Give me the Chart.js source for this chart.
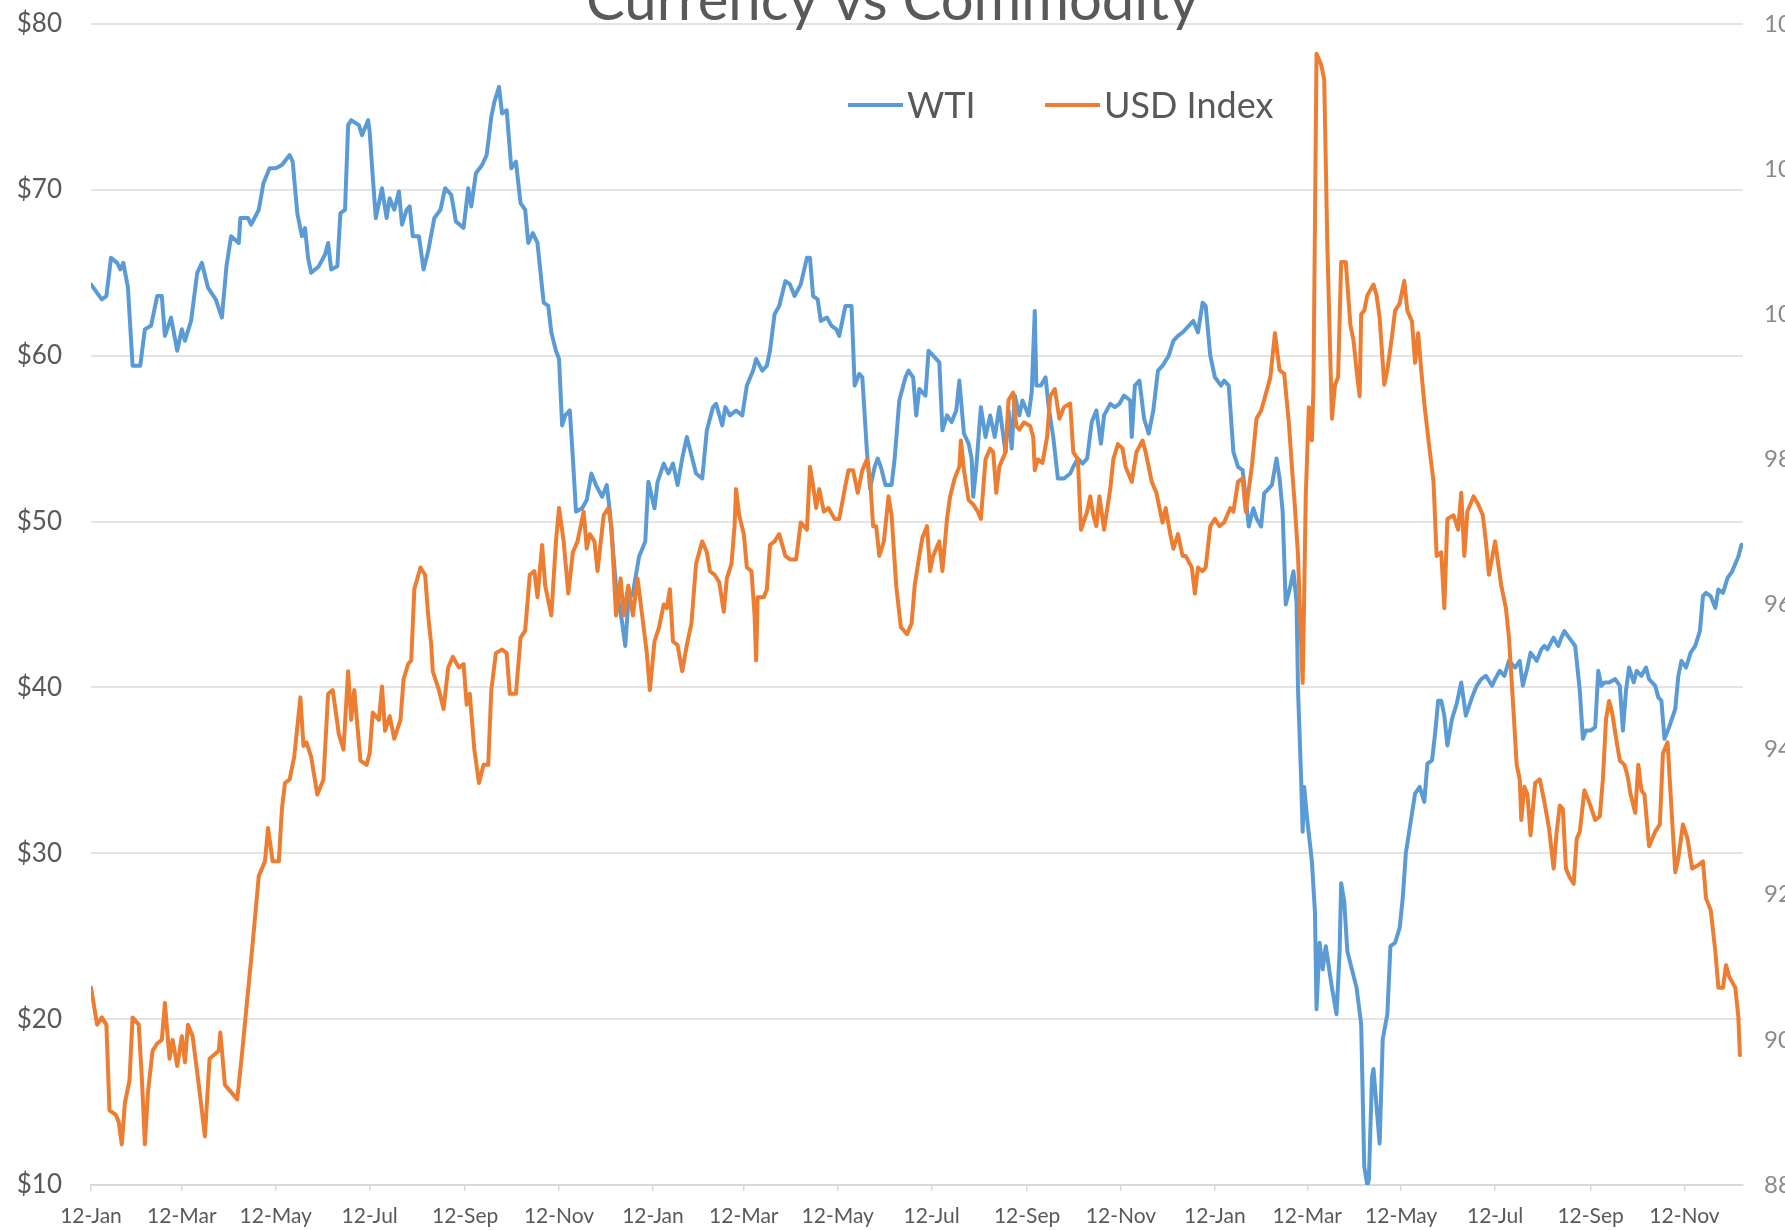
<!DOCTYPE html>
<html>
<head>
<meta charset="utf-8">
<style>
  html, body { margin: 0; padding: 0; background: #fff; overflow: hidden; }
  canvas { display: block; }
</style>
</head>
<body>
<canvas id="chart-id" width="1785" height="1230"></canvas>
<script src="https://cdn.jsdelivr.net/npm/chart.js@4.4.1/dist/chart.umd.min.js"></script>
<script>
const chartTitle = 'Currency vs Commodity';

// x axis: days counted from 12 Jan 2018, one label every two months
const tickDays = [0, 59, 120, 181, 243, 304, 365, 424, 485, 546, 608, 669, 730, 790, 851, 912, 974, 1035];
const tickLabels = ['12-Jan', '12-Mar', '12-May', '12-Jul', '12-Sep', '12-Nov',
                    '12-Jan', '12-Mar', '12-May', '12-Jul', '12-Sep', '12-Nov',
                    '12-Jan', '12-Mar', '12-May', '12-Jul', '12-Sep', '12-Nov'];

const wtiDays = [
  0, 7, 10, 13, 17, 19, 21, 24, 27, 32, 35, 39, 43, 46, 48, 52, 56, 59, 61, 65, 69, 72, 76, 81, 85, 88, 91, 96, 97, 102,
  104, 109, 112, 116, 120, 124, 129, 131, 134, 137, 139, 141, 143, 148, 152, 154, 156, 160, 162, 165, 167, 169, 174, 176, 180,
  181, 183, 185, 189, 192, 194, 197, 200, 202, 205, 207, 209, 213, 216, 219, 223, 227, 230, 234, 237, 242, 245, 247, 250, 254,
  257, 260, 262, 265, 267, 270, 273, 276, 279, 282, 284, 287, 290, 294, 297, 299, 302, 304, 306, 308, 311, 313, 315, 319, 322,
  325, 328, 332, 335, 337, 341, 345, 347, 349, 352, 356, 360, 362, 366, 368, 372, 375, 378, 381, 384, 387, 390, 393, 397, 400,
  404, 406, 410, 412, 415, 419, 423, 426, 430, 432, 436, 439, 441, 444, 447, 451, 454, 457, 461, 465, 467, 469, 472, 474, 478,
  481, 484, 486, 490, 494, 496, 499, 501, 504, 506, 509, 511, 513, 516, 520, 522, 525, 529, 531, 534, 536, 538, 542, 544, 547,
  551, 553, 556, 559, 562, 564, 567, 570, 572, 573, 575, 578, 581, 584, 587, 590, 594, 596, 598, 600, 603, 605, 609, 611, 613,
  614, 617, 620, 622, 625, 628, 632, 636, 638, 641, 644, 647, 650, 653, 656, 658, 662, 665, 668, 671, 675, 676, 678, 681, 684,
  687, 690, 693, 696, 700, 703, 706, 709, 713, 716, 719, 722, 724, 727, 730, 734, 736, 739, 742, 745, 748, 752, 755, 757, 760,
  762, 767, 770, 772, 774, 776, 779, 781, 783, 784, 786, 787, 788, 790, 793, 795, 796, 798, 800, 802, 806, 809, 811, 812, 814,
  816, 819, 822, 825, 827, 829, 830, 832, 833, 835, 837, 839, 842, 844, 847, 850, 852, 854, 857, 860, 863, 866, 868, 871, 873,
  875, 877, 879, 881, 884, 887, 890, 893, 897, 900, 903, 906, 910, 912, 915, 918, 921, 925, 928, 930, 933, 935, 939, 942, 944,
  946, 950, 953, 955, 957, 960, 964, 967, 969, 971, 974, 977, 979, 981, 983, 986, 990, 993, 995, 997, 999, 1002, 1004, 1007, 1010,
  1012, 1016, 1018, 1020, 1022, 1025, 1029, 1031, 1033, 1036, 1039, 1042, 1045, 1047, 1049, 1052, 1055, 1057, 1060, 1063, 1066, 1070, 1072
];
const wtiPrice = [
  64.3, 63.4, 63.6, 65.9, 65.6, 65.2, 65.6, 64.1, 59.4, 59.4, 61.6, 61.8, 63.6, 63.6, 61.2, 62.3, 60.3, 61.6, 60.9, 62.1, 65.0, 65.6, 64.1, 63.4, 62.3, 65.4, 67.2, 66.8, 68.3, 68.3,
  67.9, 68.8, 70.4, 71.3, 71.3, 71.5, 72.1, 71.7, 68.6, 67.2, 67.7, 65.9, 65.0, 65.4, 66.1, 66.8, 65.2, 65.4, 68.6, 68.8, 73.9, 74.2, 73.9, 73.3, 74.2,
  73.5, 70.8, 68.3, 70.1, 68.3, 69.5, 68.8, 69.9, 67.9, 68.8, 69.0, 67.2, 67.2, 65.2, 66.3, 68.3, 68.8, 70.1, 69.7, 68.1, 67.7, 70.1, 69.0, 71.0, 71.5,
  72.1, 74.4, 75.3, 76.2, 74.6, 74.8, 71.3, 71.7, 69.2, 68.8, 66.8, 67.4, 66.8, 63.2, 63.0, 61.4, 60.3, 59.8, 55.8, 56.4, 56.7, 53.8, 50.6, 50.8, 51.3,
  52.9, 52.2, 51.5, 52.2, 50.6, 46.1, 43.9, 42.5, 45.2, 45.7, 47.9, 48.8, 52.4, 50.8, 52.4, 53.5, 52.9, 53.5, 52.2, 53.8, 55.1, 54.0, 52.9, 52.6, 55.5,
  56.9, 57.1, 55.8, 56.9, 56.4, 56.7, 56.4, 58.2, 59.1, 59.8, 59.1, 59.4, 60.3, 62.5, 63.0, 64.5, 64.3, 63.6, 64.3, 65.9, 65.9, 63.6, 63.4, 62.1, 62.3,
  61.8, 61.6, 61.2, 63.0, 63.0, 58.2, 58.9, 58.7, 54.2, 52.0, 53.3, 53.8, 53.3, 52.2, 52.2, 53.8, 57.3, 58.7, 59.1, 58.7, 56.4, 58.0, 57.6, 60.3, 60.0,
  59.6, 55.5, 56.4, 56.0, 56.7, 58.5, 55.3, 54.7, 53.8, 51.5, 53.3, 56.9, 55.1, 56.4, 55.1, 56.9, 54.2, 56.7, 54.4, 57.6, 56.4, 57.3, 56.4, 57.8, 62.7,
  58.2, 58.2, 58.7, 56.9, 55.1, 52.6, 52.6, 52.9, 53.3, 53.8, 53.5, 53.8, 56.0, 56.7, 54.7, 56.4, 57.1, 56.9, 57.1, 57.6, 57.3, 55.1, 58.2, 58.5, 56.2,
  55.3, 56.7, 59.1, 59.4, 60.0, 60.9, 61.2, 61.4, 61.8, 62.1, 61.4, 63.2, 63.0, 60.0, 58.7, 58.2, 58.5, 58.2, 54.2, 53.3, 53.1, 49.7, 50.8, 50.2, 49.7,
  51.7, 52.2, 53.8, 52.6, 50.6, 45.0, 46.1, 47.0, 45.2, 39.8, 34.5, 31.3, 34.0, 32.0, 29.5, 26.4, 20.6, 24.6, 23.0, 24.4, 21.9, 20.3, 24.1, 28.2, 27.1,
  24.1, 23.0, 21.9, 19.7, 11.1, 10.0, 10.3, 16.5, 17.0, 14.7, 12.5, 18.8, 20.3, 24.4, 24.6, 25.5, 27.3, 30.0, 31.8, 33.6, 34.0, 33.1, 35.4, 35.6, 37.2,
  39.2, 39.2, 38.3, 36.5, 38.1, 39.0, 40.3, 38.3, 39.4, 40.1, 40.5, 40.7, 40.1, 40.5, 41.0, 40.7, 41.6, 41.2, 41.6, 40.1, 41.2, 42.1, 41.6, 42.3, 42.5,
  42.3, 43.0, 42.5, 43.0, 43.4, 43.0, 42.5, 39.8, 36.9, 37.4, 37.4, 37.6, 41.0, 40.1, 40.3, 40.3, 40.5, 40.1, 37.4, 39.8, 41.2, 40.3, 41.0, 40.7, 41.2,
  40.5, 40.1, 39.4, 39.2, 36.9, 37.6, 38.7, 40.7, 41.6, 41.2, 42.1, 42.5, 43.4, 45.5, 45.7, 45.5, 44.8, 45.9, 45.7, 46.6, 47.0, 47.9, 48.6
];

const usdDays = [
  0, 4, 7, 10, 12, 16, 18, 20, 22, 25, 27, 31, 33, 35, 37, 40, 43, 46, 48, 51, 53, 56, 59, 61, 63, 66, 70, 74, 77, 83,
  84, 87, 91, 95, 98, 102, 105, 109, 113, 115, 118, 122, 124, 126, 129, 132, 136, 138, 140, 143, 147, 151, 154, 157, 161, 164, 167, 169, 171, 175,
  179, 181, 183, 187, 189, 191, 194, 197, 201, 203, 206, 208, 210, 214, 217, 219, 221, 222, 226, 229, 232, 235, 239, 242, 244, 246, 249, 252, 255, 258,
  260, 263, 267, 270, 272, 276, 279, 282, 285, 288, 290, 293, 295, 299, 302, 304, 307, 310, 313, 316, 320, 322, 324, 327, 329, 333, 336, 338, 341, 344,
  346, 349, 352, 355, 358, 361, 363, 366, 369, 372, 374, 376, 378, 381, 384, 387, 390, 393, 397, 400, 402, 405, 408, 411, 413, 416, 418, 419, 421, 424,
  426, 429, 431, 432, 433, 437, 439, 441, 444, 447, 451, 454, 458, 461, 465, 467, 469, 471, 473, 476, 479, 483, 486, 490, 492, 495, 498, 501, 504, 506,
  508, 510, 512, 515, 518, 520, 523, 526, 530, 533, 535, 538, 540, 543, 545, 547, 551, 553, 556, 558, 561, 564, 565, 567, 570, 573, 576, 578, 581, 584,
  586, 588, 590, 594, 596, 599, 601, 603, 606, 610, 612, 613, 615, 618, 621, 623, 626, 629, 632, 636, 638, 641, 643, 647, 649, 651, 653, 655, 658, 662,
  664, 667, 670, 672, 676, 679, 683, 685, 689, 692, 694, 696, 698, 701, 703, 706, 709, 711, 715, 717, 719, 722, 724, 727, 730, 733, 736, 740, 742, 745,
  748, 750, 754, 757, 760, 762, 766, 769, 772, 775, 778, 780, 782, 784, 785, 787, 788, 789, 791, 793, 794, 796, 799, 801, 803, 806, 808, 810, 812, 815,
  818, 820, 822, 824, 825, 827, 829, 833, 835, 837, 840, 842, 845, 847, 850, 853, 855, 858, 860, 862, 864, 866, 869, 872, 874, 877, 879, 881, 885, 888,
  890, 892, 894, 898, 901, 904, 906, 908, 912, 914, 916, 919, 921, 924, 926, 928, 929, 931, 933, 935, 938, 941, 944, 947, 950, 952, 954, 956, 958, 960,
  963, 965, 967, 970, 973, 977, 980, 982, 984, 986, 988, 991, 993, 996, 998, 1000, 1003, 1005, 1007, 1009, 1012, 1016, 1019, 1021, 1024, 1026, 1029, 1031, 1034, 1037,
  1040, 1044, 1047, 1049, 1052, 1055, 1057, 1060, 1062, 1064, 1068, 1070, 1071
];
const usdIndex = [
  90.72, 90.21, 90.31, 90.21, 89.03, 88.97, 88.87, 88.56, 89.13, 89.44, 90.31, 90.21, 89.49, 88.56, 89.28, 89.85, 89.95, 90.00, 90.51, 89.74, 90.00, 89.64, 90.05, 89.69, 90.21, 90.05, 89.38, 88.67, 89.74, 89.85,
  90.10, 89.38, 89.28, 89.18, 89.79, 90.67, 91.33, 92.26, 92.46, 92.92, 92.46, 92.46, 93.18, 93.54, 93.59, 93.90, 94.72, 94.05, 94.10, 93.90, 93.38, 93.59, 94.77, 94.82, 94.21, 94.00, 95.08, 94.41, 94.82, 93.85,
  93.79, 93.95, 94.51, 94.41, 94.87, 94.26, 94.46, 94.15, 94.41, 94.97, 95.18, 95.23, 96.21, 96.51, 96.41, 95.85, 95.44, 95.08, 94.82, 94.56, 95.13, 95.28, 95.13, 95.18, 94.62, 94.77, 94.00, 93.54, 93.79, 93.79,
  94.82, 95.33, 95.38, 95.33, 94.77, 94.77, 95.54, 95.64, 96.41, 96.46, 96.10, 96.82, 96.26, 95.85, 96.87, 97.33, 96.87, 96.15, 96.72, 96.87, 97.28, 96.77, 96.97, 96.87, 96.46, 97.23, 97.33, 97.08, 95.85, 96.36,
  95.85, 96.26, 95.85, 96.36, 95.85, 95.33, 94.82, 95.49, 95.69, 96.00, 95.95, 96.21, 95.49, 95.44, 95.08, 95.44, 95.74, 96.56, 96.87, 96.72, 96.46, 96.41, 96.31, 95.90, 96.36, 96.56, 97.08, 97.59, 97.23, 96.97,
  96.51, 96.46, 95.85, 95.23, 96.10, 96.10, 96.21, 96.82, 96.87, 96.97, 96.67, 96.62, 96.62, 97.13, 97.03, 97.90, 97.64, 97.33, 97.59, 97.28, 97.33, 97.18, 97.18, 97.64, 97.85, 97.85, 97.54, 97.85, 98.00, 97.74,
  97.08, 97.08, 96.67, 96.87, 97.49, 97.23, 96.26, 95.69, 95.59, 95.74, 96.26, 96.67, 96.92, 97.08, 96.46, 96.67, 96.87, 96.46, 97.18, 97.49, 97.74, 97.90, 98.26, 97.85, 97.44, 97.38, 97.28, 97.18, 98.00, 98.15,
  98.10, 97.54, 97.90, 98.10, 98.82, 98.92, 98.46, 98.41, 98.51, 98.46, 98.31, 97.85, 98.00, 97.95, 98.31, 98.87, 98.97, 98.56, 98.72, 98.77, 98.10, 98.00, 97.03, 97.28, 97.49, 97.23, 97.08, 97.49, 97.03, 97.59,
  98.00, 98.21, 98.15, 97.90, 97.69, 98.10, 98.26, 98.10, 97.69, 97.54, 97.33, 97.13, 97.33, 96.97, 96.77, 96.97, 96.67, 96.67, 96.51, 96.15, 96.51, 96.46, 96.51, 97.08, 97.18, 97.08, 97.13, 97.33, 97.28, 97.69,
  97.74, 97.28, 97.90, 98.56, 98.67, 98.82, 99.13, 99.74, 99.23, 99.18, 98.51, 97.90, 97.33, 96.67, 96.05, 94.92, 96.15, 97.49, 98.72, 98.26, 99.00, 103.59, 103.44, 103.23, 100.97, 98.56, 99.03, 99.13, 100.72, 100.72,
  99.85, 99.64, 99.23, 98.87, 100.00, 100.05, 100.26, 100.41, 100.26, 99.95, 99.03, 99.23, 99.69, 100.05, 100.15, 100.46, 100.05, 99.90, 99.33, 99.74, 99.23, 98.77, 98.21, 97.69, 96.67, 96.72, 95.95, 97.18, 97.23, 97.03,
  97.54, 96.67, 97.28, 97.49, 97.38, 97.23, 96.87, 96.41, 96.87, 96.56, 96.26, 95.95, 95.54, 94.51, 93.79, 93.59, 93.03, 93.49, 93.38, 92.82, 93.54, 93.59, 93.28, 92.92, 92.36, 92.87, 93.23, 93.18, 92.36, 92.26,
  92.15, 92.77, 92.87, 93.44, 93.28, 93.03, 93.08, 93.59, 94.41, 94.67, 94.51, 94.10, 93.85, 93.79, 93.64, 93.38, 93.13, 93.79, 93.44, 93.38, 92.67, 92.87, 92.97, 93.95, 94.10, 93.38, 92.31, 92.51, 92.97, 92.77,
  92.36, 92.41, 92.46, 91.95, 91.79, 91.23, 90.72, 90.72, 91.03, 90.87, 90.72, 90.31, 89.79
];

const wtiColor = '#5B9BD5';
const usdColor = '#ED7D31';
const textColor = '#595959';
const hidden = 'rgba(0,0,0,0)';

Chart.defaults.font.family = 'Lato, "Open Sans", sans-serif';
Chart.defaults.color = textColor;

// title sits half above the top edge, like the cropped original
const titlePlugin = {
  id: 'cutTitle',
  afterDraw(chart) {
    const ctx = chart.ctx;
    ctx.save();
    ctx.font = '58px Lato';
    ctx.fillStyle = textColor;
    ctx.textAlign = 'center';
    ctx.textBaseline = 'alphabetic';
    ctx.fillText(chartTitle, chart.width / 2, 20);
    ctx.restore();
  }
};

// legend drawn inside the plot, line sample + name
const legendPlugin = {
  id: 'insideLegend',
  afterDraw(chart) {
    const ctx = chart.ctx;
    const y = chart.chartArea.top + 81;
    const starts = [848, 1045];
    ctx.save();
    ctx.font = '36px Lato';
    ctx.textBaseline = 'middle';
    ctx.textAlign = 'left';
    chart.data.datasets.forEach((ds, i) => {
      ctx.strokeStyle = ds.borderColor;
      ctx.lineWidth = ds.borderWidth;
      ctx.beginPath();
      ctx.moveTo(starts[i], y);
      ctx.lineTo(starts[i] + 55, y);
      ctx.stroke();
      ctx.fillStyle = textColor;
      ctx.fillText(ds.label, starts[i] + 59, y + 1);
    });
    ctx.restore();
  }
};

new Chart(document.getElementById('chart-id').getContext('2d'), {
  type: 'line',
  data: {
    datasets: [{
      label: 'WTI',
      data: wtiDays.map((d, i) => ({ x: d, y: wtiPrice[i] })),
      borderColor: wtiColor,
      borderWidth: 4,
      yAxisID: 'y',
      order: 1,
    }, {
      label: 'USD Index',
      data: usdDays.map((d, i) => ({ x: d, y: usdIndex[i] })),
      borderColor: usdColor,
      borderWidth: 4,
      yAxisID: 'y1',
      order: 0,
    }]
  },
  options: {
    responsive: false,
    animation: false,
    parsing: false,
    elements: {
      point: { radius: 0 },
      line: { tension: 0, borderJoinStyle: 'round', borderCapStyle: 'round' }
    },
    layout: { padding: { top: 24, left: 0, right: 0, bottom: 0 } },
    plugins: {
      legend: { display: false },
      title: { display: false },
      tooltip: { enabled: false },
    },
    scales: {
      x: {
        type: 'linear',
        min: 0,
        max: 1073,
        afterBuildTicks: (scale) => { scale.ticks = tickDays.map((v) => ({ value: v })); },
        afterFit: (scale) => { scale.height = 45; },
        ticks: {
          autoSkip: false,
          maxRotation: 0,
          padding: 13,
          font: { size: 21 },
          color: textColor,
          callback: (v, i) => tickLabels[i],
        },
        grid: { drawOnChartArea: false, drawTicks: true, tickLength: 6, color: '#d9d9d9', lineWidth: 1.5 },
        border: { display: true, color: '#d9d9d9', width: 2 },
      },
      y: {
        position: 'left',
        min: 10,
        max: 80,
        afterFit: (scale) => { scale.width = 91; },
        ticks: {
          stepSize: 10,
          padding: 0,
          font: { size: 26 },
          color: textColor,
          callback: (v) => '$' + v,
        },
        // invisible tick marks keep the gap between labels and plot
        grid: { color: '#e4e4e4', lineWidth: 2, drawTicks: true, tickLength: 29, tickColor: hidden },
        border: { display: false },
      },
      y1: {
        position: 'right',
        min: 88,
        max: 104,
        afterFit: (scale) => { scale.width = 42; },
        ticks: {
          stepSize: 2,
          padding: 0,
          font: { size: 24 },
          color: '#8a8a8a',
        },
        grid: { drawOnChartArea: false, drawTicks: true, tickLength: 21, tickColor: hidden },
        border: { display: false },
      }
    }
  },
  plugins: [titlePlugin, legendPlugin]
});
</script>
</body>
</html>
